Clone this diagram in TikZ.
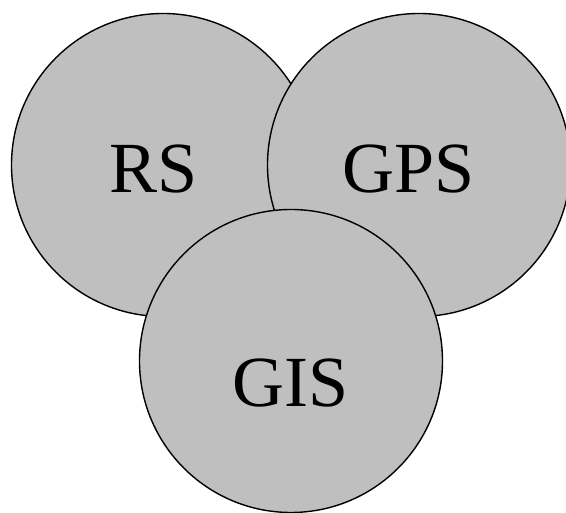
\documentclass[tikz,border=0pt]{standalone}
\usepackage{fontspec}
\setmainfont{Liberation Serif}
\definecolor{discgray}{RGB}{191,191,191}
\begin{document}
\begin{tikzpicture}[x=1pt,y=1pt,
  disc/.style={circle, draw=black, line width=1.4pt, fill=discgray,
               inner sep=0pt, minimum size=303pt},
  label/.style={anchor=base, inner sep=0pt, font=\fontsize{72}{72}\selectfont}]
  \useasboundingbox (0,0) rectangle (566,513);
  \clip (0,0) rectangle (566,513);
  % three overlapping discs, later ones painted over earlier ones
  \node[disc] (rs)  at (163,348) {};
  \node[disc] (gps) at (419,348) {};
  \node[disc] (gis) at (291,152) {};
  % labels
  \node[label] (rstext)  at (153.5,320) {RS};
  \node[label] (gpstext) at (409,320) {GPS};
  \node[label] (gistext) at (291,106) {GIS};
\end{tikzpicture}
\end{document}
